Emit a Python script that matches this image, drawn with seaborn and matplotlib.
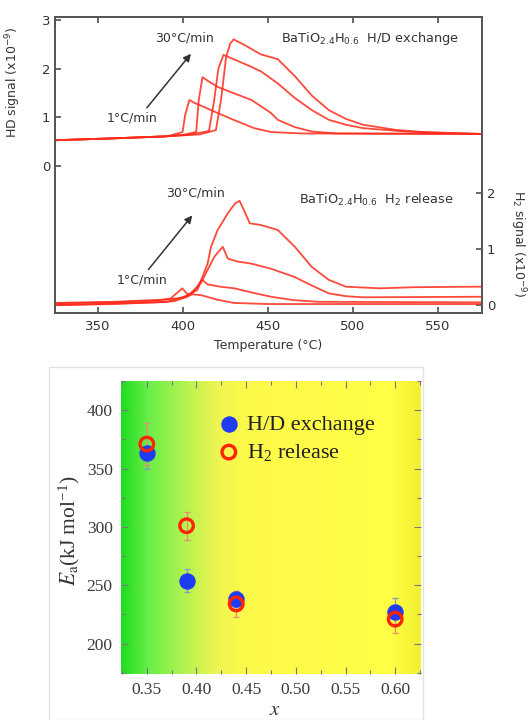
import numpy as np
import pandas as pd
import matplotlib
matplotlib.use("Agg")
import matplotlib.pyplot as plt
from matplotlib.colors import LinearSegmentedColormap
from matplotlib.patches import Rectangle
from matplotlib.ticker import MultipleLocator
import seaborn as sns

sns.set_theme(style="white")
plt.rcParams['font.family'] = ['DejaVu Sans']
plt.rcParams['mathtext.default'] = 'regular'

# ---- top panel: HD signal (left axis), rates 1 -> 30 C/min
hd_T_1 = [325, 360, 390, 393, 397, 400, 401.5, 404, 407, 411, 420, 430, 442, 452, 470, 576]
hd_v_1 = [0.53, 0.57, 0.61, 0.63, 0.67, 0.70, 1.05, 1.36, 1.30, 1.24, 1.10, 0.95, 0.78, 0.70, 0.67, 0.66]
hd_T_2 = [325, 360, 390, 400, 408, 409.5, 411.7, 415, 420.6, 430, 440.5, 452, 456, 466, 476, 490, 576]
hd_v_2 = [0.53, 0.57, 0.61, 0.64, 0.70, 1.36, 1.83, 1.75, 1.63, 1.50, 1.36, 1.09, 0.95, 0.80, 0.71, 0.67, 0.66]
hd_T_3 = [325, 360, 390, 405, 415.5, 418.6, 421, 424, 430, 440, 446, 456, 466, 476, 486, 496, 506, 531, 576]
hd_v_3 = [0.53, 0.57, 0.61, 0.65, 0.72, 1.36, 2.00, 2.29, 2.20, 2.05, 1.95, 1.70, 1.40, 1.15, 0.95, 0.85, 0.78, 0.71, 0.66]
hd_T_4 = [325, 360, 390, 410, 419.6, 422.6, 425.6, 428, 430, 436, 446, 456, 466, 476, 486, 496, 506, 526, 545, 576]
hd_v_4 = [0.53, 0.57, 0.61, 0.65, 0.74, 1.36, 2.25, 2.52, 2.61, 2.50, 2.30, 2.20, 1.85, 1.45, 1.15, 0.97, 0.85, 0.74, 0.69, 0.66]

# ---- top panel: H2 signal (right axis)
h2_T_1 = [325, 360, 385, 393, 396.8, 399.8, 402.8, 410.7, 420, 430, 450, 576]
h2_v_1 = [0.03, 0.05, 0.08, 0.12, 0.22, 0.30, 0.20, 0.18, 0.10, 0.04, 0.02, 0.02]
h2_T_2 = [325, 360, 390, 400, 404.8, 408.7, 411.3, 414.7, 422, 430.5, 440, 452, 465, 480, 576]
h2_v_2 = [0.04, 0.06, 0.10, 0.13, 0.18, 0.33, 0.46, 0.37, 0.33, 0.30, 0.23, 0.15, 0.09, 0.06, 0.05]
h2_T_3 = [325, 360, 385, 395, 402.8, 410.7, 414.7, 418.6, 421, 423.6, 426.6, 432, 440.5, 452, 466, 476, 486, 496, 506, 576]
h2_v_3 = [0.00, 0.03, 0.05, 0.07, 0.15, 0.39, 0.63, 0.86, 0.95, 1.04, 0.83, 0.78, 0.74, 0.65, 0.50, 0.35, 0.21, 0.16, 0.14, 0.15]
h2_T_4 = [325, 360, 391, 400.8, 408.7, 414.7, 416.7, 420.6, 426.6, 431, 433.5, 436, 439.5, 446, 456, 466, 476, 486, 496, 516, 536, 576]
h2_v_4 = [0.00, 0.02, 0.06, 0.15, 0.27, 0.74, 1.04, 1.34, 1.64, 1.82, 1.86, 1.70, 1.46, 1.43, 1.34, 1.04, 0.68, 0.45, 0.33, 0.30, 0.32, 0.33]

# ---- bottom panel: activation energies
x_comp = [0.35, 0.39, 0.44, 0.60]
ea_hd = [363, 254, 238, 227]
ea_hd_err = [13, 10, 7, 12]
ea_h2 = [371, 301, 234, 221]
ea_h2_err = [18, 12, 11, 12]

W, H = 530, 720
fig = plt.figure(figsize=(W / 100, H / 100), dpi=100)
txt = '#333333'
red = '#ff2a1a'

def box(l, t, r, b):
    return [l / W, 1 - b / H, (r - l) / W, (b - t) / H]

# ================= top panel =================
ax1 = fig.add_axes(box(55, 17, 482, 313))
ax2 = ax1.twinx()

for T, v in [(hd_T_1, hd_v_1), (hd_T_2, hd_v_2), (hd_T_3, hd_v_3), (hd_T_4, hd_v_4)]:
    sns.lineplot(x=T, y=v, ax=ax1, color=red, lw=1.3, sort=False, estimator=None, alpha=0.85)
for T, v in [(h2_T_1, h2_v_1), (h2_T_2, h2_v_2), (h2_T_3, h2_v_3), (h2_T_4, h2_v_4)]:
    sns.lineplot(x=T, y=v, ax=ax2, color=red, lw=1.3, sort=False, estimator=None, alpha=0.85)

ax1.set_xlim(325, 576)
ax1.set_ylim(-3.03, 3.07)
ax2.set_ylim(-0.14, 5.14)
ax1.set_yticks([0, 1, 2, 3])
ax2.set_yticks([0, 1, 2])
ax1.set_xticks([350, 400, 450, 500, 550])
for a in (ax1, ax2):
    for s in a.spines.values():
        s.set_color('#555555')
        s.set_linewidth(1.3)
ax1.tick_params(axis='x', direction='in', top=True, bottom=True, length=4, color='#555555',
                labelsize=9.5, labelcolor=txt, pad=5)
ax1.tick_params(axis='y', direction='in', left=True, length=4, color='#555555',
                labelsize=9.5, labelcolor=txt)
ax2.tick_params(axis='y', direction='in', right=True, length=4, color='#555555',
                labelsize=9.5, labelcolor=txt)
ax1.set_xlabel('Temperature (°C)', fontsize=9, color=txt, labelpad=4)
ax1.set_ylabel(r'HD signal (x10$^{-9}$)', fontsize=9, color=txt)
ax1.yaxis.set_label_coords(-0.075, 0.78)
fig.text(518 / W, 1 - 244 / H, r'H$_2$ signal (x10$^{-9}$)', fontsize=9, color=txt,
         rotation=270, ha='center', va='center')

# annotations
ax1.annotate('', xy=(0.3225, 0.883), xytext=(0.211, 0.686), xycoords='axes fraction',
             arrowprops=dict(arrowstyle='-|>', color='#333333', lw=1.1, mutation_scale=11))
ax1.annotate('', xy=(0.3255, 0.3368), xytext=(0.2147, 0.1395), xycoords='axes fraction',
             arrowprops=dict(arrowstyle='-|>', color='#333333', lw=1.1, mutation_scale=11))
ax1.text(0.304, 0.929, '30°C/min', transform=ax1.transAxes, ha='center', va='center', fontsize=9, color=txt)
ax1.text(0.180, 0.659, '1°C/min', transform=ax1.transAxes, ha='center', va='center', fontsize=9, color=txt)
ax1.text(0.738, 0.929, r'BaTiO$_{2.4}$H$_{0.6}$  H/D exchange', transform=ax1.transAxes,
         ha='center', va='center', fontsize=9.3, color=txt)
ax1.text(0.328, 0.405, '30°C/min', transform=ax1.transAxes, ha='center', va='center', fontsize=9, color=txt)
ax1.text(0.203, 0.112, '1°C/min', transform=ax1.transAxes, ha='center', va='center', fontsize=9, color=txt)
ax1.text(0.753, 0.382, r'BaTiO$_{2.4}$H$_{0.6}$  H$_2$ release', transform=ax1.transAxes,
         ha='center', va='center', fontsize=9.3, color=txt)

# ================= bottom panel =================
fig.patches.append(Rectangle((49 / W, 0), (423 - 49) / W, 1 - 367 / H, transform=fig.transFigure,
                             fill=False, edgecolor='#e4e4e4', lw=1.0))
ax3 = fig.add_axes(box(121, 381, 421, 674))
x0, x1, y0, y1 = 0.324, 0.626, 174, 425
grad = LinearSegmentedColormap.from_list('gy', [
    (0.0, '#22dd22'), (0.09, '#6aee48'), (0.22, '#b8f350'), (0.32, '#eef552'),
    (0.42, '#fdf94a'), (0.9, '#ffff44'), (1.0, '#f2ef30')])
ax3.imshow(np.linspace(0, 1, 300).reshape(1, -1), cmap=grad, aspect='auto',
           extent=(x0, x1, y0, y1), zorder=0, interpolation='bilinear')

ax3.errorbar(x_comp, ea_hd, yerr=ea_hd_err, fmt='none', ecolor='#8a95c8', elinewidth=0.9,
             capsize=2, capthick=0.9, zorder=2)
ax3.errorbar(x_comp, ea_h2, yerr=ea_h2_err, fmt='none', ecolor='#f08a70', elinewidth=0.9,
             capsize=2, capthick=0.9, zorder=2)
sns.scatterplot(x=x_comp, y=ea_hd, ax=ax3, color='#1f3cf5', s=140, edgecolor='#1f3cf5',
                linewidth=0, label='H/D exchange', zorder=3)
sns.scatterplot(x=x_comp, y=ea_h2, ax=ax3, facecolor='none', edgecolor='#ff2400', s=95,
                linewidth=2.4, label=r'H$_2$ release', zorder=4)

ax3.set_xlim(x0, x1)
ax3.set_ylim(y0, y1)
ax3.xaxis.set_minor_locator(MultipleLocator(0.025))
ax3.yaxis.set_minor_locator(MultipleLocator(25))
ax3.set_xticks([0.35, 0.40, 0.45, 0.50, 0.55, 0.60])
ax3.set_xticklabels(['0.35', '0.40', '0.45', '0.50', '0.55', '0.60'])
ax3.set_yticks([200, 250, 300, 350, 400])
ax3.tick_params(which='both', direction='in', top=True, right=True, bottom=True, left=True,
                color='#7a7a7a', width=0.8)
ax3.tick_params(which='major', length=5, labelsize=12.5, labelcolor='#3a3a3a', pad=6)
ax3.tick_params(which='minor', length=3)
for lab in ax3.get_xticklabels() + ax3.get_yticklabels():
    lab.set_family('Liberation Serif')
for s in ax3.spines.values():
    s.set_visible(False)

fig.text(275 / W, 1 - 709 / H, r'$\mathit{x}$', fontsize=15, color='#333333',
         ha='center', va='center', math_fontfamily='stix')
fig.text(69 / W, 1 - 531 / H, r'$\mathit{E}_{\mathrm{a}}$(kJ mol$^{-1}$)', fontsize=15.5,
         color='#333333', family='Liberation Serif', math_fontfamily='stix',
         rotation=90, ha='center', va='center')

leg = ax3.legend(loc='upper left', bbox_to_anchor=(0.315, 0.885), frameon=False,
                 prop={'family': 'Liberation Serif', 'size': 16}, handletextpad=0.2,
                 labelspacing=0.3, handlelength=1.2, borderaxespad=0, borderpad=0)
for t in leg.get_texts():
    t.set_color('#222222')
    t.set_math_fontfamily('stix')

fig.savefig('out.png', dpi=100)
